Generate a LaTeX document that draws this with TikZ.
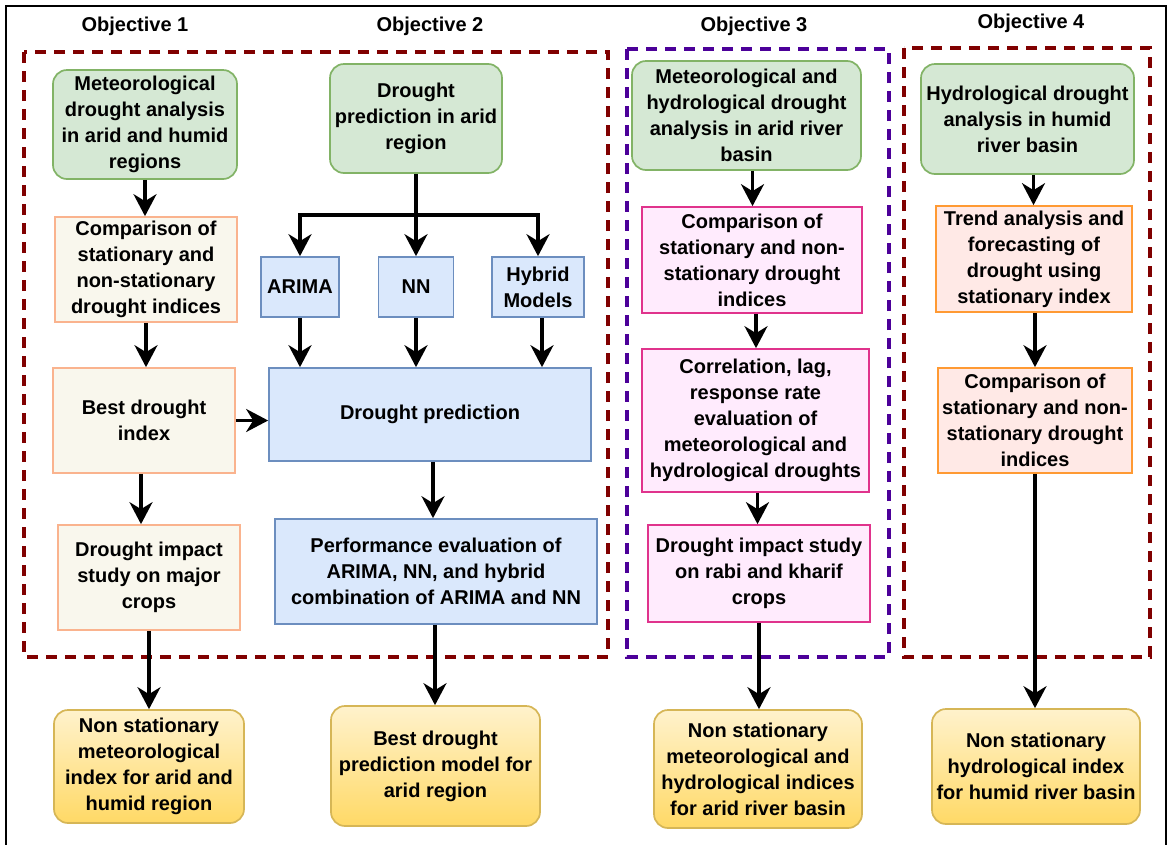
\documentclass[tikz,border=0pt]{standalone}
\usepackage{fontspec}
\setmainfont{Liberation Sans}
\usetikzlibrary{arrows.meta}

\definecolor{grnfill}{HTML}{D5E8D4}
\definecolor{grnline}{HTML}{82B366}
\definecolor{crmfill}{HTML}{F9F7ED}
\definecolor{crmline}{HTML}{FAB38E}
\definecolor{blufill}{HTML}{DAE8FC}
\definecolor{bluline}{HTML}{6C8EBF}
\definecolor{pnkfill}{HTML}{FFEBFD}
\definecolor{pnkline}{HTML}{E0338C}
\definecolor{orgfill}{HTML}{FFE9E6}
\definecolor{orgline}{HTML}{FF9A33}
\definecolor{yeltop}{HTML}{FFF2CC}
\definecolor{yelbot}{HTML}{FFD966}
\definecolor{yelline}{HTML}{D6B656}
\definecolor{maroon}{HTML}{800000}
\definecolor{indigo}{HTML}{4C0099}

\begin{document}
\begin{tikzpicture}[x=1pt,y=-1pt,
  txt/.style={font=\bfseries\fontsize{20}{26}\selectfont, align=center, inner sep=0pt},
  basebox/.style={txt, draw, line width=1.7pt},
  greenbox/.style={basebox, fill=grnfill, draw=grnline, rounded corners=14pt},
  creambox/.style={basebox, fill=crmfill, draw=crmline},
  bluebox/.style={basebox, fill=blufill, draw=bluline},
  pinkbox/.style={basebox, fill=pnkfill, draw=pnkline},
  orangebox/.style={basebox, fill=orgfill, draw=orgline},
  resultbox/.style={basebox, top color=yeltop, bottom color=yelbot, draw=yelline, rounded corners=14pt},
  sz/.style 2 args={minimum width=#1pt, minimum height=#2pt},
  group/.style={line width=3.6pt, dash pattern=on 11pt off 8pt},
  arr/.style={line width=3.2pt, -{Stealth[length=22pt,width=23pt,inset=7pt]}},
  plain/.style={line width=3.2pt},
  title/.style={font=\bfseries\fontsize{20}{24}\selectfont, inner sep=0pt}
]
\useasboundingbox (0,0) rectangle (1169,844);

% outer frame (open at the bottom)
\draw[line width=1.8pt] (6,850) -- (6,6) -- (1166,6) -- (1166,850);

% objective headings
\node[title] (h1) at (135,26) {Objective 1};
\node[title] (h2) at (430,26) {Objective 2};
\node[title] (h3) at (754,26) {Objective 3};
\node[title] (h4) at (1031,23) {Objective 4};

% grouping frames
\draw[group, draw=maroon] (24,52) rectangle (608,657);
\draw[group, draw=indigo] (627,49) rectangle (889,657);
\draw[group, draw=maroon] (904,48) rectangle (1150,657);

% objective 1
\node[greenbox, sz={184}{109}] (g1) at (145,124.5) {Meteorological\\drought analysis\\in arid and humid\\regions};
\node[creambox, sz={182}{105}] (c1) at (146,269.5) {Comparison of\\stationary and\\non-stationary\\drought indices};
\node[creambox, sz={182}{105}] (b1) at (144,420.5) {Best drought\\index};
\node[creambox, sz={182}{105}] (d1) at (149,577.5) {Drought impact\\study on major\\crops};
\node[resultbox, sz={190}{113}] (o1) at (149,766.5) {Non stationary\\meteorological\\index for arid and\\humid region};

% objective 2
\node[greenbox, sz={172}{109}] (g2) at (416,118.5) {Drought\\prediction in arid\\region};
\node[bluebox, sz={78}{60}] (ar) at (300,287) {ARIMA};
\node[bluebox, sz={75}{60}] (nn) at (416,287) {NN};
\node[bluebox, sz={92}{60}] (hm) at (538,287) {Hybrid\\Models};
\node[bluebox, sz={322}{93}] (dp) at (430,414.5) {Drought prediction};
\node[bluebox, sz={322}{105}] (pe) at (436,571.5) {Performance evaluation of\\ARIMA, NN, and hybrid\\combination of ARIMA and NN};
\node[resultbox, sz={209}{120}] (o2) at (435.5,766) {Best drought\\prediction model for\\arid region};

% objective 3
\node[greenbox, sz={229}{109}] (g3) at (746.5,115.5) {Meteorological and\\hydrological drought\\analysis in arid river\\basin};
\node[pinkbox, sz={220}{106}] (m1) at (752,260) {Comparison of\\stationary and non-\\stationary drought\\indices};
\node[pinkbox, sz={227}{143}] (m2) at (755.5,420.5) {Correlation, lag,\\response rate\\evaluation of\\meteorological and\\hydrological droughts};
\node[pinkbox, sz={222}{97}] (m3) at (759,573.5) {Drought impact study\\on rabi and kharif\\crops};
\node[resultbox, sz={208}{118}] (o3) at (758,769) {Non stationary\\meteorological and\\hydrological indices\\for arid river basin};

% objective 4
\node[greenbox, sz={213}{110}] (g4) at (1027.5,119) {Hydrological drought\\analysis in humid\\river basin};
\node[orangebox, sz={196}{106}] (t4) at (1034,259) {Trend analysis and\\forecasting of\\drought using\\stationary index};
\node[orangebox, sz={194}{105}] (c4) at (1035,420.5) {Comparison of\\stationary and non-\\stationary drought\\indices};
\node[resultbox, sz={208}{115}] (o4) at (1036,766.5) {Non stationary\\hydrological index\\for humid river basin};

% connectors, objective 1
\draw[arr] (g1.south) -- (g1.south |- c1.north);
\draw[arr] (c1.south) -- (c1.south |- b1.north);
\draw[arr] ([xshift=-3pt]b1.south) -- ([xshift=-3pt]b1.south |- d1.north);
\draw[arr] (b1.east) -- (b1.east -| dp.west);
\draw[arr] (d1.south) -- (d1.south |- o1.north);

% connectors, objective 2
\coordinate (fk) at (416,215);
\draw[plain] (g2.south) -- (fk);
\draw[arr] (fk) -| (ar.north);
\draw[arr] (fk) -- (nn.north);
\draw[arr] (fk) -| (hm.north);
\draw[arr] (ar.south) -- (ar.south |- dp.north);
\draw[arr] (nn.south) -- (nn.south |- dp.north);
\draw[arr] ([xshift=4pt]hm.south) -- ([xshift=4pt]hm.south |- dp.north);
\draw[arr] ([xshift=3pt]dp.south) -- ([xshift=3pt]dp.south |- pe.north);
\draw[arr] ([xshift=-1pt]pe.south) -- ([xshift=-1pt]pe.south |- o2.north);

% connectors, objective 3
\draw[arr] ([xshift=6pt]g3.south) -- ([xshift=6pt]g3.south |- m1.north);
\draw[arr] ([xshift=4pt]m1.south) -- ([xshift=4pt]m1.south |- m2.north);
\draw[arr] ([xshift=2pt]m2.south) -- ([xshift=2pt]m2.south |- m3.north);
\draw[arr] (m3.south) -- (m3.south |- o3.north);

% connectors, objective 4
\draw[arr] ([xshift=6pt]g4.south) -- ([xshift=6pt]g4.south |- t4.north);
\draw[arr] ([xshift=1pt]t4.south) -- ([xshift=1pt]t4.south |- c4.north);
\draw[arr] (c4.south) -- (c4.south |- o4.north);
\end{tikzpicture}
\end{document}
